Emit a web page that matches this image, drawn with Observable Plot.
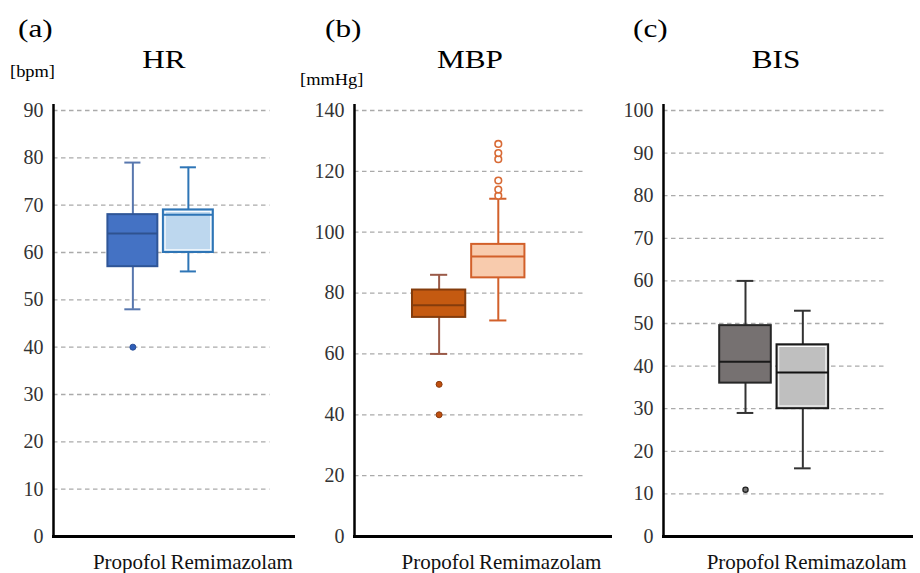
<!DOCTYPE html>
<html>
<head>
<meta charset="utf-8">
<script src="https://cdn.jsdelivr.net/npm/d3@7"></script>
<script src="https://cdn.jsdelivr.net/npm/@observablehq/plot@0.6"></script>
<style>
  html, body { margin: 0; padding: 0; background: #fff; }
  #wrap { position: relative; width: 920px; height: 573px; overflow: hidden; font-family: "Liberation Serif", "Times New Roman", serif; color: #000; }
  .panel { position: absolute; top: 0; }
  .t { position: absolute; line-height: 1; white-space: nowrap; }
  .tag { font-size: 25px; transform: scaleX(1.25); transform-origin: left top; top: 16px; }
  .title { font-size: 25px; transform: translateX(-50%) scaleX(1.25); top: 47px; }
  .unit { font-size: 16px; transform: scaleX(1.15); transform-origin: left top; }
</style>
</head>
<body>
<div id="wrap"></div>
<script>
// ---- data ----
const groups = ["Propofol", "Remimazolam"];

// HR [bpm]
const hrLow = [48, 56];
const hrQ1 = [57, 60];
const hrMedian = [64, 68];
const hrQ3 = [68, 69];
const hrHigh = [79, 78];
const hrOutliers = [[40], []];
const hrTicks = [0, 10, 20, 30, 40, 50, 60, 70, 80, 90];

// MBP [mmHg]
const mbpLow = [60, 71];
const mbpQ1 = [72, 85];
const mbpMedian = [76, 92];
const mbpQ3 = [81, 96];
const mbpHigh = [86, 111];
const mbpOutliers = [[50, 40], [112, 114, 117, 124, 126, 129]];
const mbpTicks = [0, 20, 40, 60, 80, 100, 120, 140];

// BIS
const bisLow = [29, 16];
const bisQ1 = [36, 30];
const bisMedian = [41, 38.5];
const bisQ3 = [49.5, 45];
const bisHigh = [60, 53];
const bisOutliers = [[11], []];
const bisTicks = [0, 10, 20, 30, 40, 50, 60, 70, 80, 90, 100];

// ---- layout (x in units of box slots) ----
const X0 = -1.43, X1 = 2.93, GRID_END = 2.47;
const BOX_HALF = 0.45, CAP_HALF = 0.145, LABEL_MID = 0.64;

function panel(cfg) {
  const rows = groups.map((g, i) => ({
    g, i,
    low: cfg.low[i], q1: cfg.q1[i], med: cfg.med[i], q3: cfg.q3[i], high: cfg.high[i]
  }));
  const st = cfg.style;
  const marks = [
    Plot.ruleY(cfg.ticks.filter(t => t > 0), {x1: X0, x2: GRID_END, stroke: "#aaa", strokeWidth: 1.3, strokeDasharray: "4.5,3.5"})
  ];
  rows.forEach((r, i) => {
    const s = st[i];
    marks.push(
      Plot.ruleX([r], {x: "i", y1: "q3", y2: "high", stroke: s.whisker, strokeWidth: 2}),
      Plot.ruleX([r], {x: "i", y1: "low", y2: "q1", stroke: s.whisker, strokeWidth: 2}),
      Plot.ruleY([r], {y: "high", x1: d => d.i - CAP_HALF, x2: d => d.i + CAP_HALF, stroke: s.whisker, strokeWidth: 2}),
      Plot.ruleY([r], {y: "low", x1: d => d.i - CAP_HALF, x2: d => d.i + CAP_HALF, stroke: s.whisker, strokeWidth: 2}),
      Plot.rect([r], {x1: d => d.i - BOX_HALF, x2: d => d.i + BOX_HALF, y1: "q1", y2: "q3", fill: s.fill, stroke: s.stroke, strokeWidth: 2})
    );
    if (s.inner) {
      marks.push(Plot.rect([r], {x1: d => d.i - BOX_HALF, x2: d => d.i + BOX_HALF, y1: "q1", y2: "q3", fill: "none", stroke: "#fff", strokeWidth: 1, inset: 2.2}));
    }
    marks.push(
      Plot.ruleY([r], {y: "med", x1: d => d.i - BOX_HALF, x2: d => d.i + BOX_HALF, stroke: s.median, strokeWidth: 2})
    );
    const outs = cfg.outliers[i].map(v => ({i, v}));
    if (outs.length) {
      marks.push(Plot.dot(outs, {x: "i", y: "v", r: s.dotR, fill: s.dotFill, stroke: s.dotStroke, strokeWidth: s.dotSW}));
    }
  });
  marks.push(
    Plot.ruleY([0], {stroke: "#000", strokeWidth: 3, insetLeft: -1}),
    Plot.ruleX([X0], {y1: cfg.yMax, y2: 0, insetTop: -6, stroke: "#000", strokeWidth: 2.5}),
    Plot.axisY({ticks: cfg.ticks, tickSize: 0, tickPadding: 10, label: null, fontSize: 20, fill: "#333"}),
    Plot.text([groups[0]], {x: () => LABEL_MID, y: () => 0, text: d => d, textAnchor: "end", lineAnchor: "bottom", dx: -2, dy: 32, fontSize: 21, fill: "#111"}),
    Plot.text([groups[1]], {x: () => LABEL_MID, y: () => 0, text: d => d, textAnchor: "start", lineAnchor: "bottom", dx: 2, dy: 32, fontSize: 21, fill: "#111"})
  );
  const svg = Plot.plot({
    width: cfg.width, height: 573,
    marginLeft: cfg.marginLeft, marginRight: 3, marginTop: 110, marginBottom: 37,
    x: {domain: [X0, X1], axis: null},
    y: {domain: [0, cfg.yMax]},
    style: {fontFamily: "'Liberation Serif', 'Times New Roman', serif", fontSize: "20px", color: "#333", background: "transparent", overflow: "visible"},
    marks
  });
  svg.classList.add("panel");
  svg.style.left = cfg.left + "px";
  return svg;
}

const wrap = document.getElementById("wrap");

wrap.appendChild(panel({
  left: 0, width: 298, marginLeft: 53, yMax: 90, ticks: hrTicks,
  low: hrLow, q1: hrQ1, med: hrMedian, q3: hrQ3, high: hrHigh, outliers: hrOutliers,
  style: [
    {fill: "#4472C4", stroke: "#2F5597", whisker: "#5877AE", median: "#2F528F", dotR: 3, dotFill: "#2E5EB8", dotStroke: "#2A4F96", dotSW: 1},
    {fill: "#BDD7EE", stroke: "#2E75B6", whisker: "#2E75B6", median: "#2E75B6", inner: true}
  ]
}));

wrap.appendChild(panel({
  left: 300, width: 315, marginLeft: 54, yMax: 140, ticks: mbpTicks,
  low: mbpLow, q1: mbpQ1, med: mbpMedian, q3: mbpQ3, high: mbpHigh, outliers: mbpOutliers,
  style: [
    {fill: "#C55A11", stroke: "#843C0C", whisker: "#9A5A48", median: "#843C0C", dotR: 3, dotFill: "#C0500F", dotStroke: "#8A3A0E", dotSW: 1},
    {fill: "#F8CBAD", stroke: "#D2602A", whisker: "#D2602A", median: "#D2602A", dotR: 3.3, dotFill: "#fff", dotStroke: "#D86A35", dotSW: 1.6}
  ]
}));

wrap.appendChild(panel({
  left: 615, width: 301, marginLeft: 48, yMax: 100, ticks: bisTicks,
  low: bisLow, q1: bisQ1, med: bisMedian, q3: bisQ3, high: bisHigh, outliers: bisOutliers,
  style: [
    {fill: "#767171", stroke: "#262626", whisker: "#333", median: "#1a1a1a", dotR: 2.6, dotFill: "#777", dotStroke: "#222", dotSW: 1.3},
    {fill: "#BFBFBF", stroke: "#1a1a1a", whisker: "#333", median: "#111", inner: true}
  ]
}));

// titles
const texts = [
  {cls: "tag", text: "(a)", left: 18},
  {cls: "tag", text: "(b)", left: 325},
  {cls: "tag", text: "(c)", left: 633},
  {cls: "title", text: "HR", left: 164},
  {cls: "title", text: "MBP", left: 470},
  {cls: "title", text: "BIS", left: 776},
  {cls: "unit", text: "[bpm]", left: 10, top: 64},
  {cls: "unit", text: "[mmHg]", left: 300, top: 72}
];
texts.forEach(t => {
  const d = document.createElement("div");
  d.className = "t " + t.cls;
  d.textContent = t.text;
  d.style.left = t.left + "px";
  if (t.top != null) d.style.top = t.top + "px";
  wrap.appendChild(d);
});
</script>
</body>
</html>
